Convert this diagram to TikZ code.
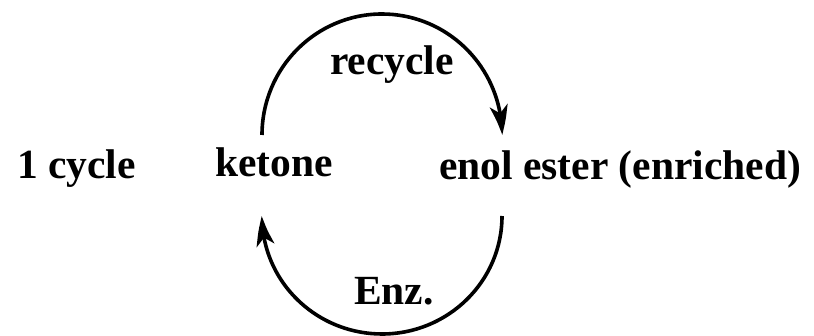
\documentclass[tikz,border=0pt]{standalone}
\usepackage{fontspec}
\setmainfont{Liberation Serif}
\usetikzlibrary{arrows.meta,bending}
\begin{document}
\begin{tikzpicture}[x=1pt,y=-1pt,
  lbl/.style={anchor=base west,inner sep=0pt,font=\fontsize{41.5}{49}\selectfont\bfseries},
  cyc/.style={line width=3.6pt,-{Stealth[length=30pt,width=18pt,inset=8pt,bend]}}]
\useasboundingbox (0,0) rectangle (814,336);
\node[lbl] (one) at (17,179) {1 cycle};
\node[lbl] (ketone) at (215,177) {ketone};
\node[lbl] (enol) at (439,180) {enol ester (enriched)};
\node[lbl] (recycle) at (330,75) {recycle};
\node[lbl] (enz) at (354,305) {Enz.};
\coordinate (k1) at (262,135);
\coordinate (e2) at (502,216);
\draw[cyc] (k1) arc[start angle=180,end angle=0,x radius=120pt,y radius=121pt];
\draw[cyc] (e2) arc[start angle=0,end angle=-180,x radius=120pt,y radius=118pt];
\end{tikzpicture}
\end{document}
